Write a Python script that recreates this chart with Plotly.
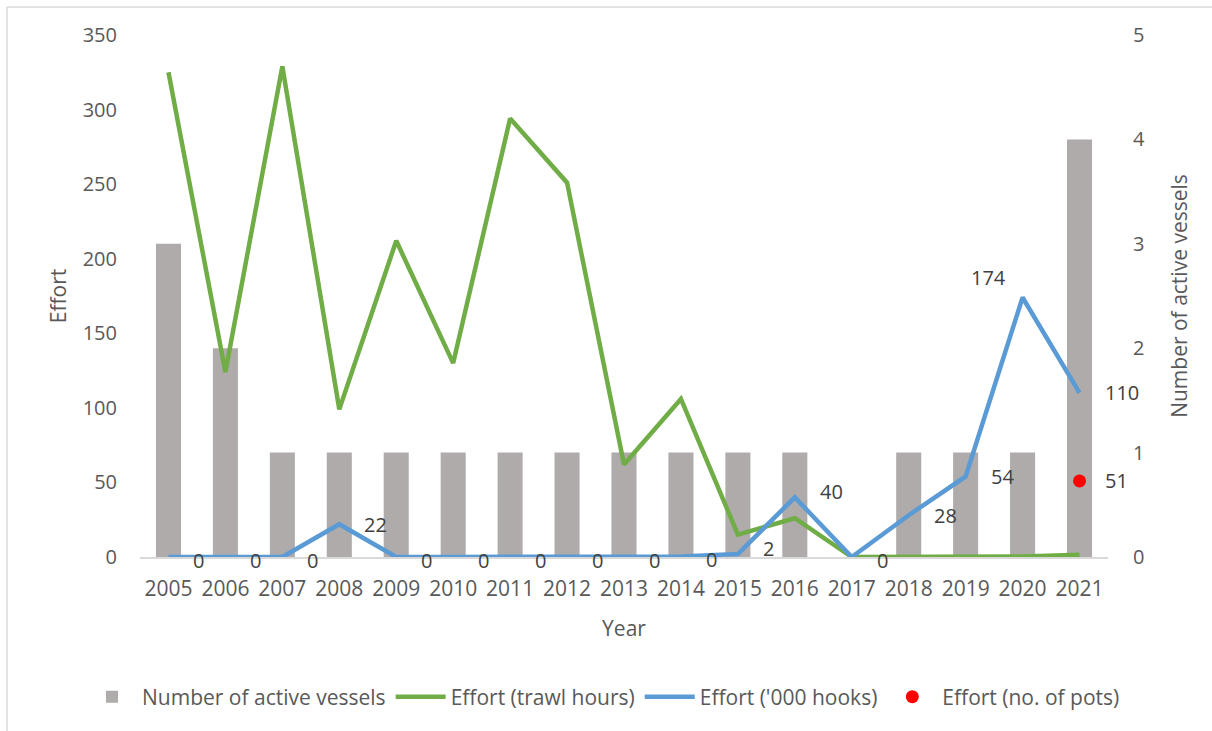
import plotly.graph_objects as go

years = [str(y) for y in range(2005, 2022)]
vessels = [3, 2, 1, 1, 1, 1, 1, 1, 1, 1, 1, 1, 0, 1, 1, 1, 4]
trawl_hours = [325, 124, 329, 99, 212, 130, 294, 251, 62, 106, 15, 26, 0, 0, 0, 0.3, 1.5]
hooks = [0, 0, 0, 22, 0, 0, 0, 0, 0, 0.4, 2, 40, 0, 28, 54, 174, 110]
pots_year = ["2021"]
pots = [51]

FONT = "Open Sans"
TXT = "#595959"

fig = go.Figure()
# Bars on the (underlying) primary axis, shown on the right side
fig.add_trace(go.Bar(x=years, y=vessels, name="Number of active vessels",
                     marker=dict(color="#AFABAB", line=dict(width=0)),
                     width=0.44, yaxis="y"))
# Effort series on the overlaying axis (drawn on top), shown on the left
fig.add_trace(go.Scatter(x=years, y=trawl_hours, name="Effort (trawl hours)", yaxis="y2",
                         mode="lines", line=dict(color="#70AD47", width=4.5)))
fig.add_trace(go.Scatter(x=years, y=hooks, name="Effort ('000 hooks)", yaxis="y2",
                         mode="lines", line=dict(color="#5B9BD5", width=4.5)))
fig.add_trace(go.Scatter(x=pots_year, y=pots, name="Effort (no. of pots)", yaxis="y2",
                         mode="markers", marker=dict(color="#FF0000", size=13)))

LBL_FONT = dict(family=FONT, size=20, color="#404040")
annotations = []
for i, v in enumerate(hooks):
    lbl = str(int(round(v)))
    if lbl == "174":
        annotations.append(dict(x=i, y=v, text=lbl, xref="x", yref="y2", showarrow=False,
                                xanchor="right", yanchor="middle", xshift=-15, yshift=20,
                                font=LBL_FONT))
    else:
        ys = 0
        if lbl in ("40", "2"):
            ys = 6
        elif lbl == "0":
            ys = -3
        annotations.append(dict(x=i, y=v, text=lbl, xref="x", yref="y2", showarrow=False,
                                xanchor="left", yanchor="middle", xshift=23, yshift=ys,
                                font=LBL_FONT))
for yr, v in zip(pots_year, pots):
    annotations.append(dict(x=years.index(yr), y=v, text=str(v), xref="x", yref="y2",
                            showarrow=False, xanchor="left", yanchor="middle", xshift=23,
                            font=LBL_FONT))

fig.update_layout(
    width=1212, height=731,
    margin=dict(l=140, r=104, t=35, b=174, autoexpand=False),
    paper_bgcolor="white", plot_bgcolor="white",
    font=dict(family=FONT, size=20, color=TXT),
    xaxis=dict(type="category", range=[-0.5, 16.5], automargin=False,
               showgrid=False, showline=True, linecolor="#D9D9D9", linewidth=1.5,
               ticks="", tickfont=dict(size=21, color=TXT), ticklabelstandoff=12,
               title=dict(text="Year", font=dict(size=21, color=TXT), standoff=20)),
    yaxis=dict(range=[0, 5], dtick=1, side="right", automargin=False, showgrid=False,
               zeroline=False, showline=False, ticks="", ticklabelstandoff=24,
               tickfont=dict(size=20, color=TXT),
               title=dict(text="Number of active vessels", font=dict(size=21, color=TXT), standoff=28)),
    yaxis2=dict(range=[0, 350], dtick=50, side="left", overlaying="y", automargin=False,
                showgrid=False, zeroline=False, showline=False,
                ticks="", tickfont=dict(size=20, color=TXT), ticklabelstandoff=22,
                title=dict(text="Effort", font=dict(size=21, color=TXT), standoff=10)),
    legend=dict(orientation="h", x=(82 - 140) / 968, xanchor="left",
                y=-(697 - 557) / 522, yanchor="middle", itemwidth=50,
                font=dict(size=21, color=TXT), traceorder="normal"),
    annotations=annotations,
    shapes=[
        dict(type="line", xref="paper", yref="paper", x0=(7 - 140) / 968, x1=(1212 - 140) / 968,
             y0=(557 - 7) / 522, y1=(557 - 7) / 522, line=dict(color="#D9D9D9", width=1.5)),
        dict(type="line", xref="paper", yref="paper", x0=(7 - 140) / 968, x1=(7 - 140) / 968,
             y0=(557 - 7) / 522, y1=(557 - 731) / 522, line=dict(color="#D9D9D9", width=1.5)),
    ],
)

fig.write_html("out.html", config={"displayModeBar": False},
               post_script="document.body.style.margin='0px';")
